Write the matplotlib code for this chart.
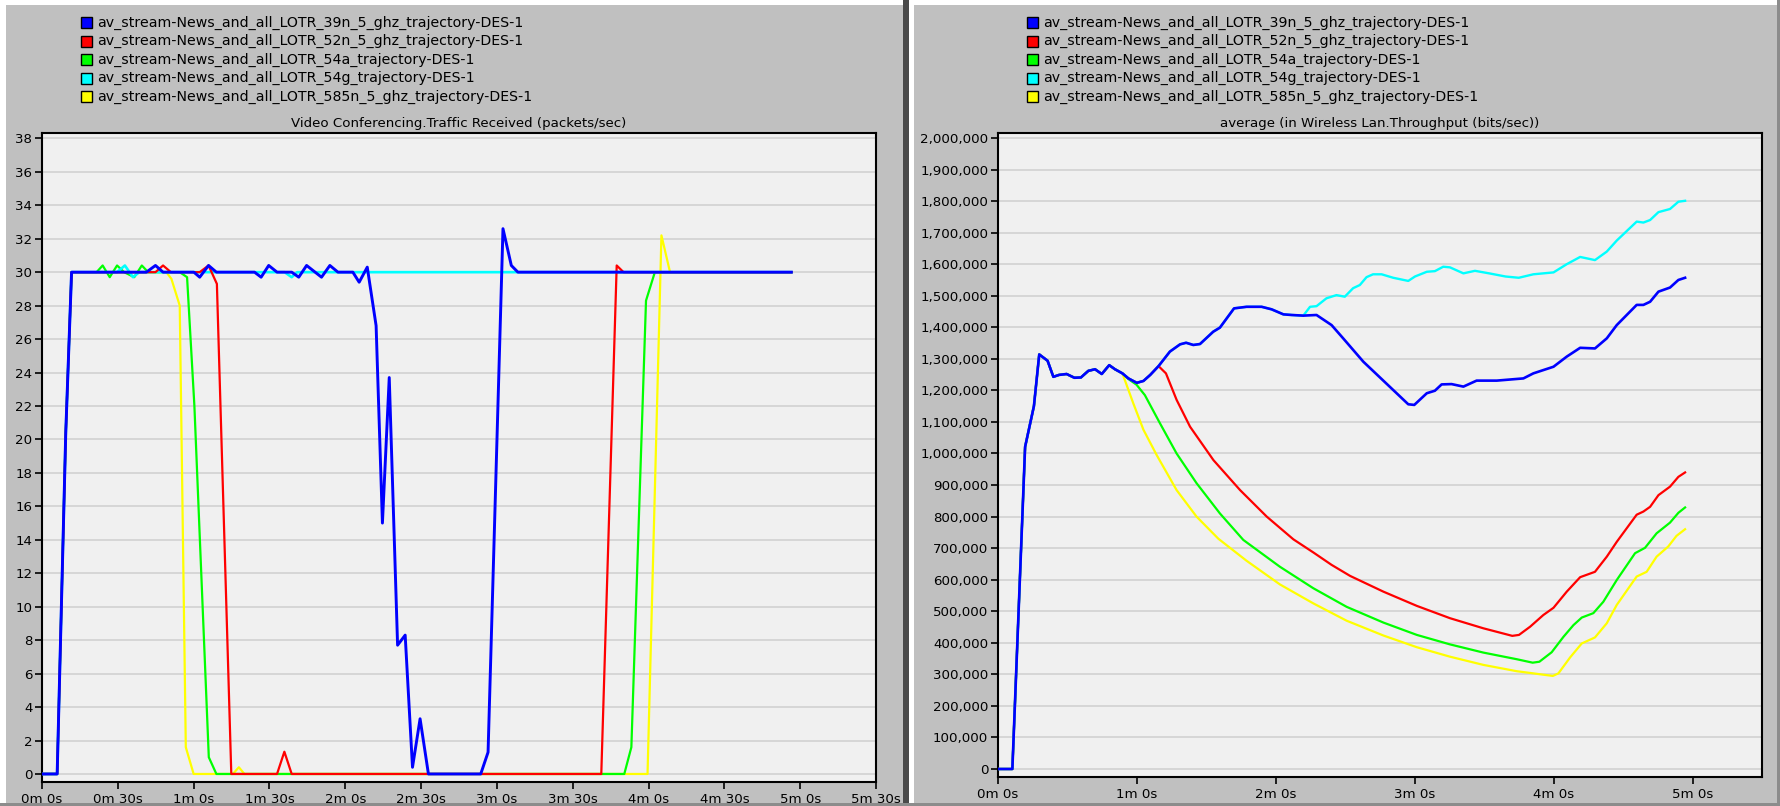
import matplotlib
matplotlib.use("Agg")
import matplotlib.pyplot as plt
from matplotlib.patches import Rectangle
from matplotlib.ticker import FuncFormatter

# ---------------- data ----------------
series_names = [
    "av_stream-News_and_all_LOTR_39n_5_ghz_trajectory-DES-1",
    "av_stream-News_and_all_LOTR_52n_5_ghz_trajectory-DES-1",
    "av_stream-News_and_all_LOTR_54a_trajectory-DES-1",
    "av_stream-News_and_all_LOTR_54g_trajectory-DES-1",
    "av_stream-News_and_all_LOTR_585n_5_ghz_trajectory-DES-1",
]
series_colors = ["#0000ff", "#ff0000", "#00ff00", "#00ffff", "#ffff00"]

left_title = "Video Conferencing.Traffic Received (packets/sec)"
right_title = "average (in Wireless Lan.Throughput (bits/sec))"

# Left chart: packets/sec vs time (s)
l_blue_t = [0, 6.0, 9.4, 11.7, 41.3, 44.9, 47.9, 60.1, 62.4, 65.9, 69.0, 84.1, 86.7, 89.7, 93.0,
            98.8, 101.6, 104.7, 110.6, 113.9, 117.1, 123.0, 125.5, 128.7, 132.2, 134.7, 137.4,
            140.7, 143.7, 146.6, 149.6, 152.9, 173.6, 176.5, 182.4, 185.7, 188.3, 296.5]
l_blue_v = [0, 0, 20.4, 30, 30, 30.4, 30, 30, 29.7, 30.4, 30, 30, 29.7, 30.4, 30,
            30, 29.7, 30.4, 29.7, 30.4, 30, 30, 29.4, 30.3, 26.8, 15.0, 23.7,
            7.7, 8.3, 0.4, 3.3, 0, 0, 1.3, 32.6, 30.4, 30.0, 30.0]

l_red_t = [0, 6.0, 9.4, 11.7, 44.9, 47.9, 51.0, 62.4, 65.9, 69.2, 74.9, 93.0, 95.9, 98.8,
           221.3, 227.4, 230.1, 296.5]
l_red_v = [0, 0, 20.4, 30, 30, 30.4, 30, 30, 30.4, 29.3, 0, 0, 1.33, 0,
           0, 30.4, 30.0, 30.0]

l_green_t = [0, 6.0, 9.4, 11.7, 21.6, 24.0, 26.8, 29.7, 32.5, 36.5, 39.5, 42.0, 54.5, 57.4,
             60.3, 66.0, 69.0, 230.4, 233.2, 239.0, 242.5, 296.5]
l_green_v = [0, 0, 20.4, 30, 30, 30.4, 29.7, 30.4, 30, 29.7, 30.4, 30, 30, 29.7,
             22.0, 1.0, 0, 0, 1.6, 28.3, 30, 30]

l_cyan_t = [0, 6.0, 9.4, 11.7, 29.7, 32.8, 36.0, 38.5, 96.0, 98.8, 101.0, 296.5]
l_cyan_v = [0, 0, 20.4, 30, 30, 30.4, 29.7, 30, 30, 29.7, 30, 30]

l_yellow_t = [0, 6.0, 9.4, 11.7, 49.2, 51.2, 54.5, 56.9, 60.0, 75.5, 77.9, 80.1,
              239.6, 245.1, 248.5, 296.5]
l_yellow_v = [0, 0, 20.4, 30, 30, 29.6, 28.0, 1.6, 0, 0, 0.4, 0,
              0, 32.2, 30, 30]

# Right chart: average throughput (bits/sec) vs time (s)
r_common_t = [0, 6.2, 11.7, 15.5, 17.8, 21.4, 23.9, 26.3, 29.6, 33.0, 35.8, 39.0, 41.9,
              44.8, 48.0, 50.5, 53.7]
r_common_v = [0, 0, 1021000, 1150000, 1314000, 1294000, 1243000, 1249000, 1252000, 1240000,
              1241000, 1262000, 1267000, 1252000, 1280000, 1267000, 1254000]

r_blue_t = [56.3, 59.9, 62.8, 65.7, 69.3, 74.2, 78.6, 81.2, 84.3, 87.2, 92.9, 95.8, 101.9,
            107.3, 113.8, 118.1, 123.2, 126.8, 131.8, 137.5, 144.0, 149.0, 157.7, 177.1, 179.7,
            185.1, 188.6, 191.5, 195.8, 200.9, 206.6, 215.3, 226.8, 231.1, 239.8, 245.5, 251.3,
            257.7, 262.8, 267.1, 275.7, 278.6, 281.5, 285.1, 290.1, 293.7, 296.6]
r_blue_v = [1238000, 1224000, 1230000, 1249000, 1277000, 1323000, 1346000, 1351000, 1344000,
            1347000, 1386000, 1399000, 1460000, 1465000, 1465000, 1457000, 1441000, 1439000,
            1437000, 1439000, 1407000, 1365000, 1291000, 1156000, 1154000, 1191000, 1199000,
            1219000, 1220000, 1212000, 1231000, 1231000, 1238000, 1254000, 1275000, 1307000,
            1335000, 1333000, 1365000, 1407000, 1471000, 1471000, 1481000, 1513000, 1526000,
            1550000, 1557000]

r_cyan_t = [131.8, 134.7, 137.5, 141.8, 146.1, 149.7, 153.3, 156.2, 159.1, 161.9, 165.6, 170.6,
            177.1, 180.0, 185.1, 188.6, 192.2, 195.1, 200.9, 205.9, 212.0, 219.1, 224.8, 231.1,
            239.8, 245.5, 251.3, 257.7, 262.8, 267.1, 275.7, 278.6, 281.5, 285.1, 290.1, 293.7,
            296.6]
r_cyan_v = [1437000, 1465000, 1467000, 1492000, 1502000, 1497000, 1524000, 1534000, 1559000,
            1568000, 1568000, 1557000, 1547000, 1561000, 1576000, 1578000, 1592000, 1590000,
            1571000, 1579000, 1571000, 1561000, 1557000, 1568000, 1574000, 1600000, 1623000,
            1613000, 1640000, 1675000, 1735000, 1732000, 1740000, 1765000, 1775000, 1798000,
            1801000]

r_red_t = [56.3, 59.9, 62.8, 65.7, 69.3, 72.5, 77.1, 82.9, 93.0, 104.5, 116.0, 127.5, 136.2,
           144.0, 152.0, 166.4, 180.8, 195.1, 209.5, 222.0, 224.9, 229.7, 235.4, 239.8, 245.5,
           251.3, 257.7, 262.8, 267.1, 275.7, 278.6, 281.5, 285.1, 290.1, 293.7, 296.6]
r_red_v = [1238000, 1224000, 1230000, 1249000, 1277000, 1254000, 1170000, 1085000, 979000,
           884000, 800000, 728000, 686000, 647000, 612000, 562000, 517000, 478000, 446000,
           422000, 425000, 451000, 488000, 511000, 562000, 608000, 625000, 673000, 720000,
           806000, 816000, 831000, 868000, 895000, 926000, 940000]

r_green_t = [56.3, 59.8, 63.4, 69.9, 77.1, 85.7, 95.8, 105.9, 121.7, 136.1, 150.5, 166.4,
             180.8, 195.1, 209.5, 223.9, 230.8, 233.7, 239.0, 244.1, 248.4, 252.0, 257.0,
             261.3, 267.1, 275.0, 279.3, 284.3, 290.1, 293.7, 296.6]
r_green_v = [1236000, 1218000, 1185000, 1096000, 1000000, 906000, 810000, 726000, 641000,
             573000, 514000, 464000, 425000, 395000, 369000, 348000, 337000, 340000, 370000,
             419000, 456000, 480000, 494000, 530000, 599000, 684000, 701000, 747000, 781000,
             812000, 829000]

r_yellow_t = [58.4, 62.8, 68.5, 77.1, 85.7, 95.1, 107.3, 121.7, 136.1, 150.5, 166.4, 180.8,
              195.1, 209.5, 223.9, 239.5, 241.9, 247.0, 252.0, 257.7, 262.8, 267.1, 275.7,
              280.0, 284.3, 289.3, 292.9, 296.6]
r_yellow_v = [1159000, 1075000, 995000, 884000, 800000, 730000, 660000, 585000, 525000,
              470000, 423000, 386000, 356000, 330000, 310000, 295000, 303000, 354000, 398000,
              417000, 462000, 520000, 610000, 625000, 673000, 705000, 739000, 760000]

left_xticks = [0, 30, 60, 90, 120, 150, 180, 210, 240, 270, 300, 330]
left_xtick_labels = ["0m 0s", "0m 30s", "1m 0s", "1m 30s", "2m 0s", "2m 30s", "3m 0s",
                     "3m 30s", "4m 0s", "4m 30s", "5m 0s", "5m 30s"]
left_yticks = list(range(0, 39, 2))
right_xticks = [0, 60, 120, 180, 240, 300]
right_xtick_labels = ["0m 0s", "1m 0s", "2m 0s", "3m 0s", "4m 0s", "5m 0s"]
right_yticks = list(range(0, 2000001, 100000))

# ---------------- layout ----------------
W, H, DPI = 1780, 806, 100
FS = 9.6
plt.rcParams["font.family"] = ["DejaVu Sans"]

fig = plt.figure(figsize=(W / DPI, H / DPI), dpi=DPI)
fig.patch.set_facecolor("#c0c0c0")


def box(x0, y0, x1, y1):
    return [x0 / W, 1 - y1 / H, (x1 - x0) / W, (y1 - y0) / H]


def frect(x0, y0, x1, y1, color, ec="none", lw=0, z=0):
    fig.add_artist(Rectangle((x0 / W, 1 - y1 / H), (x1 - x0) / W, (y1 - y0) / H,
                             transform=fig.transFigure, facecolor=color, edgecolor=ec,
                             linewidth=lw, zorder=z))


# window bevels
frect(0, 0, W, 5, "#ffffff")
frect(0, 0, 6, H, "#ffffff")
frect(903, 0, 909, H, "#4a4a4a")
frect(909, 5, 914, H, "#ffffff")
frect(0, 803, W, H, "#8c8c8c")
frect(1777, 0, W, H, "#8c8c8c")

axL = fig.add_axes(box(42, 133, 876, 782))
axR = fig.add_axes(box(998, 133, 1762, 777))


def style(ax):
    ax.set_facecolor("#f0f0f0")
    for s in ax.spines.values():
        s.set_color("black")
        s.set_linewidth(1.5)
    ax.yaxis.grid(True, color="#d4d4d4", linewidth=1.3)
    ax.set_axisbelow(True)
    ax.tick_params(axis="both", which="major", direction="out", length=5, width=1.2,
                   color="black", labelsize=FS, labelcolor="black")
    ax.tick_params(axis="y", pad=2)
    ax.tick_params(axis="x", pad=3)


style(axL)
style(axR)

# left chart lines (draw order: yellow, green, cyan, red, blue)
axL.plot(l_yellow_t, l_yellow_v, color=series_colors[4], lw=1.6, zorder=2)
axL.plot(l_green_t, l_green_v, color=series_colors[2], lw=1.6, zorder=3)
axL.plot(l_cyan_t, l_cyan_v, color=series_colors[3], lw=1.9, zorder=4)
axL.plot(l_red_t, l_red_v, color=series_colors[1], lw=1.6, zorder=5)
axL.plot(l_blue_t, l_blue_v, color=series_colors[0], lw=2.1, zorder=6)
axL.set_xlim(0, 330)
axL.set_ylim(-0.48, 38.32)
axL.set_xticks(left_xticks)
axL.set_xticklabels(left_xtick_labels)
axL.set_yticks(left_yticks)

# right chart lines
axR.plot(r_common_t + r_yellow_t, r_common_v + r_yellow_v, color=series_colors[4], lw=1.6, zorder=2)
axR.plot(r_common_t + r_green_t, r_common_v + r_green_v, color=series_colors[2], lw=1.6, zorder=3)
axR.plot(r_common_t + r_red_t, r_common_v + r_red_v, color=series_colors[1], lw=1.6, zorder=4)
split = r_blue_t.index(131.8)
cyan_t = r_common_t + r_blue_t[:split] + r_cyan_t
cyan_v = r_common_v + r_blue_v[:split] + r_cyan_v
axR.plot(cyan_t, cyan_v, color=series_colors[3], lw=1.7, zorder=5)
axR.plot(r_common_t + r_blue_t, r_common_v + r_blue_v, color=series_colors[0], lw=1.9, zorder=6)
axR.set_xlim(0, 329.8)
axR.set_ylim(-25357, 2015848)
axR.set_xticks(right_xticks)
axR.set_xticklabels(right_xtick_labels)
axR.set_yticks(right_yticks)
axR.yaxis.set_major_formatter(FuncFormatter(lambda v, p: f"{int(round(v)):,}"))

# titles
fig.text((42 + 876) / 2 / W, 1 - 123 / H, left_title, ha="center", va="center", fontsize=FS)
fig.text((998 + 1762) / 2 / W, 1 - 123 / H, right_title, ha="center", va="center", fontsize=FS)

# legends
rows_y = [22.5, 41, 59.5, 78, 96.5]
for (bx, tx) in [(81, 97), (1027, 1043)]:
    for name, col, ry in zip(series_names, series_colors, rows_y):
        frect(bx, ry - 5.5, bx + 11, ry + 5.5, col, ec="black", lw=1.0, z=3)
        fig.text(tx / W, 1 - ry / H, name, ha="left", va="center", fontsize=10.2)

fig.savefig("out.png", dpi=DPI, facecolor=fig.get_facecolor())
